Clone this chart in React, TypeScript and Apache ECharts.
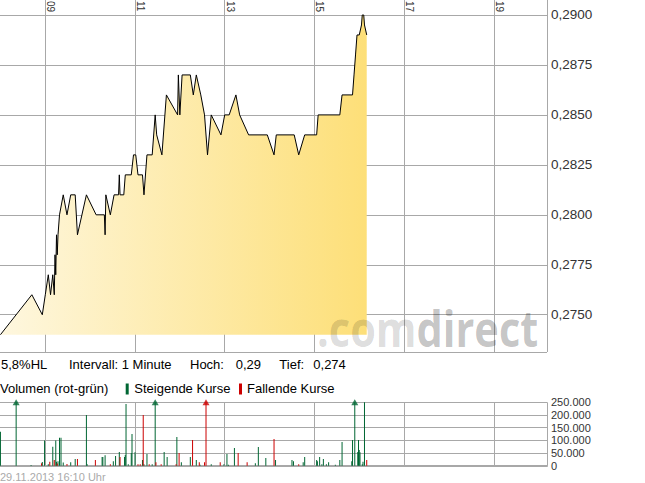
import { useEffect, useRef } from 'react';
import * as echarts from 'echarts';

// Kursverlauf (1-Minuten-Intervall), Eckpunkte der Linie
const priceTimes = [
  '08:00', '08:42', '08:56', '09:00', '09:04', '09:07', '09:10', '09:12', '09:13', '09:14',
  '09:15', '09:16', '09:17', '09:19', '09:24', '09:29', '09:34', '09:40', '09:43', '09:55',
  '10:08', '10:19', '10:20', '10:21', '10:27', '10:32', '10:38', '10:39', '10:40', '10:45',
  '10:47', '10:55', '10:58', '11:01', '11:04', '11:10', '11:12', '11:16', '11:23', '11:27',
  '11:29', '11:36', '11:42', '11:57', '11:58', '12:00', '12:03', '12:14', '12:18', '12:22',
  '12:28', '12:33', '12:37', '12:42', '12:55', '13:00', '13:06', '13:15', '13:20', '13:32',
  '13:57', '14:06', '14:09', '14:33', '14:39', '14:47', '15:03', '15:05', '15:34', '15:37',
  '15:51', '15:53', '15:55', '15:57', '16:00', '16:03', '16:04', '16:06', '16:07', '16:10',
];
const prices = [
  0.274, 0.276, 0.275, 0.276, 0.277, 0.276, 0.277, 0.276, 0.278, 0.277,
  0.279, 0.278, 0.279, 0.280, 0.281, 0.280, 0.281, 0.281, 0.279, 0.281,
  0.280, 0.280, 0.279, 0.281, 0.280, 0.281, 0.281, 0.282, 0.281, 0.281,
  0.282, 0.282, 0.283, 0.283, 0.282, 0.282, 0.281, 0.283, 0.283, 0.285,
  0.284, 0.283, 0.286, 0.285, 0.287, 0.285, 0.287, 0.287, 0.286, 0.287,
  0.286, 0.285, 0.283, 0.285, 0.284, 0.285, 0.285, 0.286, 0.285, 0.284,
  0.284, 0.283, 0.284, 0.284, 0.283, 0.284, 0.284, 0.285, 0.285, 0.286,
  0.286, 0.287, 0.288, 0.289, 0.289, 0.2895, 0.290, 0.290, 0.2895, 0.289,
];
const previousClose = 0.274;

// Volumen, steigende Kurse (grün)
const risingTimes = [
  '08:00', '08:21', '08:41', '08:56', '08:59', '09:04', '09:10', '09:14', '09:15', '09:17',
  '09:19', '09:21', '09:24', '09:34', '09:40', '09:55', '09:56', '10:16', '10:17', '10:20',
  '10:31', '10:34', '10:39', '10:46', '10:47', '10:48', '10:51', '10:55', '10:56', '11:00',
  '11:10', '11:12', '11:16', '11:23', '11:27', '11:39', '11:43', '11:56', '12:02', '12:14',
  '12:22', '12:27', '12:42', '12:59', '13:03', '13:05', '13:13', '13:41', '13:45', '13:55',
  '14:08', '14:30', '14:32', '14:45', '14:47', '15:03', '15:04', '15:07', '15:10', '15:12',
  '15:16', '15:19', '15:28', '15:34', '15:37', '15:50', '15:51', '15:54', '15:58', '15:59',
  '16:00', '16:01', '16:04', '16:05', '16:07',
];
const risingVolumes = [
  134000, 300000, 3000, 15000, 99000, 6000, 75000, 99000, 16000, 18000,
  110000, 110000, 13000, 14000, 26000, 200000, 6000, 34000, 34000, 41000,
  18000, 38000, 54000, 34000, 42000, 243000, 6000, 50000, 125000, 53000,
  22000, 6000, 46000, 6000, 300000, 54000, 34000, 113000, 14000, 34000,
  22000, 4000, 6000, 6000, 46000, 4000, 70000, 10000, 74000, 30000,
  22000, 22000, 18000, 14000, 34000, 22000, 18000, 34000, 6000, 26000,
  6000, 14000, 4000, 22000, 93000, 18000, 101000, 300000, 54000, 101000,
  62000, 53000, 6000, 16000, 250000,
];

// Volumen, fallende Kurse (rot)
const fallingTimes = [
  '08:55', '09:06', '09:12', '09:16', '09:29', '09:43', '10:07', '10:27', '10:40', '11:04',
  '11:07', '11:11', '11:19', '11:28', '11:35', '11:55', '11:59', '12:17', '12:26', '12:33',
  '12:35', '12:54', '13:18', '13:30', '14:06', '14:39', '16:10',
];
const fallingVolumes = [
  10000, 16000, 22000, 9000, 7000, 26000, 22000, 6000, 34000, 6000,
  6000, 200000, 6000, 14000, 6000, 6000, 50000, 101000, 14000, 14000,
  300000, 14000, 50000, 14000, 105000, 6000, 22000,
];

const FONT = '"Liberation Sans", Arial, sans-serif';
const GRID_COLOR = '#a8a8a8';
const GREEN = '#006633';
const RED = '#cc0000';
const PRICE_STEP = 0.0025;
const VOLUME_MAX = 250000;

// x axis: hours relative to 09:00
const X_MIN = -1.01;
const X_MAX = 11.186;
// hour labels sit just right of their grid line (about 5.5px = 0.123h)
const LABEL_SHIFT = 0.123;
const P_MIN = 0.273135;
const P_MAX = 0.29075;

const toHours = (t: string) => {
  const [h, m] = t.split(':').map(Number);
  return h - 9 + m / 60;
};

const formatVolume = (v: number) =>
  String(Math.round(v)).replace(/\B(?=(\d{3})+(?!\d))/g, '.');

export default function App() {
  const chartRef = useRef<HTMLDivElement>(null);

  useEffect(() => {
    if (!chartRef.current) return;
    const chart = echarts.init(chartRef.current, undefined, { renderer: 'svg' });

    const priceData = priceTimes.map((t, i) => [toHours(t), prices[i]]);
    const risingData = risingTimes.map((t, i) => [toHours(t), risingVolumes[i]]);
    const fallingData = fallingTimes.map((t, i) => [toHours(t), fallingVolumes[i]]);
    const arrows = [
      ...risingData.filter((d) => d[1] > VOLUME_MAX).map((d) => ({ value: [d[0], VOLUME_MAX], itemStyle: { color: GREEN } })),
      ...fallingData.filter((d) => d[1] > VOLUME_MAX).map((d) => ({ value: [d[0], VOLUME_MAX], itemStyle: { color: RED } })),
    ];

    const splitLine = (minLine: boolean, maxLine: boolean) => ({
      show: true,
      showMinLine: minLine,
      showMaxLine: maxLine,
      lineStyle: { color: GRID_COLOR, width: 1, type: 'solid' },
    });

    const text = (x: number, y: number, s: string, size = 13, fill = '#000') => ({
      type: 'text',
      x,
      y,
      silent: true,
      style: { text: s, fontSize: size, fontFamily: FONT, fill, verticalAlign: 'middle' },
    });

    chart.setOption({
      animation: false,
      grid: [
        { left: 0, top: 0, width: 547, height: 352, outerBoundsMode: 'none', containLabel: false },
        { left: 0, top: 402.3, width: 547, height: 63.4, outerBoundsMode: 'none', containLabel: false },
      ],
      xAxis: [
        {
          gridIndex: 0,
          type: 'value',
          position: 'top',
          min: X_MIN,
          max: X_MAX,
          axisLine: { show: false },
          axisTick: { show: false },
          axisLabel: { show: false },
          splitLine: splitLine(false, true),
        },
        {
          gridIndex: 1,
          type: 'value',
          min: X_MIN,
          max: X_MAX,
          axisLine: { show: true, lineStyle: { color: GRID_COLOR, width: 2 } },
          axisTick: { show: false },
          axisLabel: { show: false },
          splitLine: splitLine(false, true),
        },
        {
          // hour labels, rotated, inside the top of the price chart
          gridIndex: 0,
          type: 'value',
          position: 'top',
          min: X_MIN - LABEL_SHIFT,
          max: X_MAX - LABEL_SHIFT,
          axisLine: { show: false },
          axisTick: { show: false },
          splitLine: { show: false },
          axisLabel: {
            inside: true,
            rotate: 90,
            margin: 1,
            showMinLabel: false,
            showMaxLabel: false,
            fontSize: 10,
            fontFamily: FONT,
            color: '#333',
            formatter: (v: number) => String(9 + v).padStart(2, '0'),
          },
        },
      ],
      yAxis: [
        { gridIndex: 0, type: 'value', min: P_MIN, max: P_MAX, show: false },
        {
          gridIndex: 0,
          type: 'value',
          position: 'right',
          min: P_MIN / PRICE_STEP,
          max: P_MAX / PRICE_STEP,
          axisLine: { show: false },
          axisTick: { show: false },
          splitLine: splitLine(true, false),
          axisLabel: {
            margin: 4,
            showMinLabel: false,
            showMaxLabel: false,
            fontSize: 13.5,
            fontFamily: FONT,
            color: '#333',
            formatter: (v: number) => (v * PRICE_STEP).toFixed(4).replace('.', ','),
          },
        },
        {
          gridIndex: 1,
          type: 'value',
          position: 'right',
          min: 0,
          max: VOLUME_MAX,
          interval: 50000,
          axisLine: { show: false },
          axisTick: { show: false },
          splitLine: splitLine(false, true),
          axisLabel: {
            margin: 4,
            fontSize: 11,
            fontFamily: FONT,
            color: '#333',
            formatter: formatVolume,
          },
        },
      ],
      series: [
        {
          type: 'line',
          xAxisIndex: 0,
          yAxisIndex: 0,
          data: priceData,
          symbol: 'none',
          lineStyle: { color: '#000', width: 1 },
          areaStyle: {
            origin: previousClose,
            opacity: 1,
            color: new echarts.graphic.LinearGradient(0, 0, 1, 0, [
              { offset: 0, color: '#fef7df' },
              { offset: 1, color: '#fddf78' },
            ]),
          },
          markLine: {
            silent: true,
            symbol: 'none',
            label: { show: false },
            lineStyle: { color: '#b40000', width: 1, type: 'solid' },
            data: [{ yAxis: previousClose }],
          },
        },
        {
          type: 'bar',
          xAxisIndex: 1,
          yAxisIndex: 2,
          data: risingData,
          barWidth: 1,
          barGap: '-100%',
          itemStyle: { color: GREEN },
        },
        {
          type: 'bar',
          xAxisIndex: 1,
          yAxisIndex: 2,
          data: fallingData,
          barWidth: 1,
          barGap: '-100%',
          itemStyle: { color: RED },
        },
        {
          type: 'scatter',
          xAxisIndex: 1,
          yAxisIndex: 2,
          symbol: 'triangle',
          symbolSize: [7, 6],
          clip: false,
          data: arrows,
        },
      ],
      graphic: [
        {
          type: 'text',
          x: 317,
          y: 327,
          scaleX: 0.83,
          silent: true,
          z: 100,
          style: {
            text: '{a|.com}{b|direct}',
            verticalAlign: 'middle',
            rich: {
              a: { fontSize: 50, fontWeight: 'bold', fontFamily: '"Open Sans", sans-serif', fill: 'rgba(0,0,0,0.15)' },
              b: { fontSize: 50, fontWeight: 'bold', fontFamily: '"Open Sans", sans-serif', fill: 'rgba(0,0,0,0.24)' },
            },
          },
        },
        text(1, 364.3, '5,8%HL'),
        text(69, 364.3, 'Intervall: 1 Minute'),
        text(190, 364.3, 'Hoch:'),
        text(235.7, 364.3, '0,29'),
        text(279.3, 364.3, 'Tief:'),
        text(313.3, 364.3, '0,274'),
        text(0, 388.7, 'Volumen (rot-grün)'),
        { type: 'rect', silent: true, shape: { x: 125.7, y: 383.5, width: 3, height: 11 }, style: { fill: GREEN } },
        text(134.3, 388.7, 'Steigende Kurse'),
        { type: 'rect', silent: true, shape: { x: 239, y: 383.5, width: 3, height: 11 }, style: { fill: RED } },
        text(247, 388.7, 'Fallende Kurse'),
        text(0, 477, '29.11.2013 16:10 Uhr', 11, '#aaaaaa'),
      ],
    });

    return () => chart.dispose();
  }, []);

  return (
    <div
      ref={chartRef}
      style={{ position: 'absolute', left: 0, top: 0, width: 645, height: 483, background: '#fff' }}
    />
  );
}
